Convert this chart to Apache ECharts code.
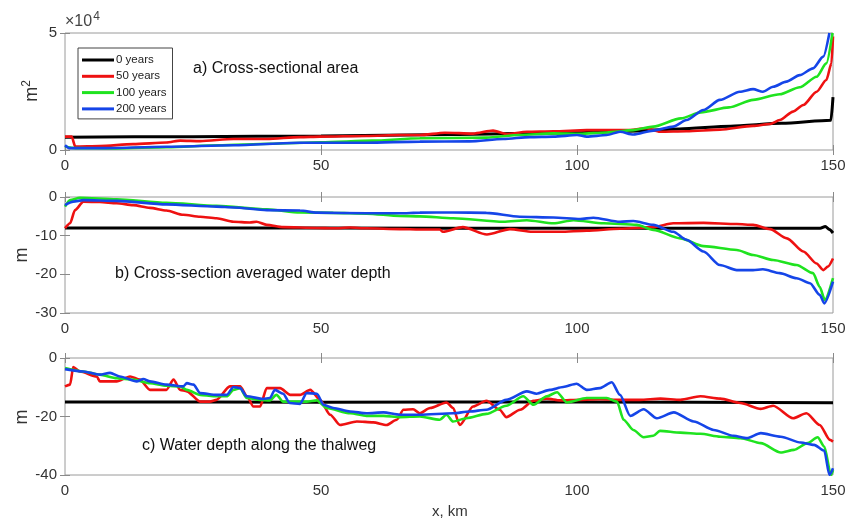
<!DOCTYPE html>
<html>
<head>
<meta charset="utf-8">
<script src="https://cdn.jsdelivr.net/npm/echarts@6/dist/echarts.min.js"></script>
<style>
  html, body { margin: 0; padding: 0; background: #fff; }
  #chart { width: 851px; height: 522px; }
</style>
</head>
<body>
<div id="chart"></div>
<script>
// legend names / colours
var names = ['0 years', '50 years', '100 years', '200 years'];
var colors = ['#000000', '#ee1111', '#1fe31f', '#1545e8'];

// a) cross-sectional area, x in km, y in 10^4 m2
var areaY0 = [[0,0.55],[25,0.57],[50,0.6],[75,0.66],[100,0.74],[110,0.8],[120,0.9],[130,1.02],[140,1.14],[149.6,1.27],[150,2.26]];
var areaY50 = [[0,0.57],[1.3,0.57],[2,0.15],[6.8,0.17],[13.3,0.25],[19.8,0.32],[22.5,0.4],[26.4,0.38],[32.9,0.47],[39.4,0.47],[45.9,0.55],[49.8,0.57],[58.9,0.6],[65.4,0.64],[69.3,0.64],[74.2,0.74],[79.7,0.7],[83.6,0.83],[86.2,0.68],[90.2,0.78],[95.4,0.8],[101.9,0.85],[109.7,0.85],[113.6,0.93],[116.2,0.78],[121.4,0.8],[127.9,0.87],[134.4,1.03],[137.7,1.11],[139.6,1.28],[142.2,1.64],[144.2,1.92],[146.8,2.49],[148.7,2.99],[149.7,3.7],[150,4.85]];
var areaY100 = [[0,0.15],[2,0.08],[10,0.07],[20,0.12],[30,0.2],[40,0.27],[50,0.33],[60,0.4],[69.3,0.5],[82.3,0.53],[88.8,0.64],[95.4,0.71],[100.6,0.69],[105.8,0.75],[111,0.85],[114.9,1.0],[120.3,1.35],[124.2,1.61],[129.7,1.82],[134.4,2.14],[139.6,2.38],[143.5,2.68],[146.8,3.13],[148.7,3.7],[149.9,5]];
var areaY200 = [[0,0.2],[0.8,0.08],[6.8,0.08],[19.8,0.14],[32.9,0.2],[45.9,0.31],[58.9,0.31],[69.3,0.36],[79,0.37],[85.6,0.47],[90.8,0.55],[95.4,0.57],[100,0.64],[101.9,0.57],[105.8,0.64],[108.4,0.78],[111,0.66],[114.9,0.83],[118.8,1.0],[121.4,1.28],[124.7,1.71],[127.9,2.14],[131.8,2.49],[134.4,2.6],[136.3,2.49],[138.3,2.7],[140.9,2.92],[143.5,3.2],[146.1,3.49],[148.1,3.99],[149.3,5]];

// b) cross-section averaged water depth, m
var depthY0 = [[0,-8],[50,-8],[100,-8.1],[147.5,-8.1],[148.5,-7.6],[149.3,-8.4],[150,-9.3]];
var depthY50 = [[0,-8.1],[1,-6.8],[1.95,-3.4],[3.6,-1.2],[6.8,-1.3],[10.1,-1.6],[13.3,-2.1],[16.6,-2.8],[19.8,-3.5],[23.1,-4.6],[26.4,-5.1],[29.6,-5.5],[32.9,-6.4],[36.1,-6.6],[37.4,-6.4],[39.4,-7.2],[42.6,-7.8],[49.2,-8],[52.4,-8.1],[55.7,-7.9],[58.9,-8.1],[65.4,-8.3],[69.3,-8.4],[73.2,-8.4],[73.8,-9],[77.7,-7.8],[82.4,-9.7],[86.9,-8.3],[91.3,-9],[96.7,-9],[101.9,-8.7],[108.4,-8.2],[114.9,-7.8],[118.8,-6.8],[124.7,-6.7],[131.2,-7],[134.4,-7.2],[137.7,-8.3],[141,-10.7],[144.2,-14.1],[146.8,-17.2],[148.1,-18.9],[149,-18],[150,-15.9]];
var depthY100 = [[0,-2.5],[1,-0.8],[2.9,-0.2],[10.1,-0.6],[19.8,-1.5],[29.6,-2.3],[39.4,-3.2],[45.9,-4],[52.4,-4.1],[58.9,-4.3],[65.4,-4.9],[69.3,-5],[75.8,-5.5],[85.6,-6.4],[90.2,-6],[95.4,-6.8],[99.3,-6],[105.2,-6.8],[111.7,-7.2],[114.9,-8.5],[120.2,-10.7],[124.7,-12.7],[131.2,-13.7],[134.4,-15],[138.3,-16.3],[142.9,-17.6],[146.1,-19.7],[147.4,-23.2],[148.4,-26.6],[150,-21]];
var depthY200 = [[0,-2.1],[1.6,-1.2],[3.6,-0.8],[10.1,-1],[19.8,-1.9],[29.6,-2.5],[32.9,-2.7],[39.4,-3.4],[45.9,-3.5],[49.2,-4.05],[58.9,-4.2],[65.4,-4.2],[69.3,-4.05],[75.8,-4],[82.3,-4.1],[88.8,-5.1],[95.4,-5.3],[100.6,-5.7],[103.2,-5.35],[108.4,-6.4],[111,-6.2],[114.9,-7.2],[118.8,-9],[121.4,-11.1],[124.7,-14.1],[127.9,-17.6],[131.2,-18.9],[134.4,-18.9],[136.3,-18.7],[139.6,-19.7],[142.9,-21],[145.5,-22.3],[147.4,-25.3],[148.3,-27.5],[150,-21.9]];

// c) water depth along the thalweg, m
var thalY0 = [[0,-15],[50,-15.1],[100,-15],[150,-15.3]];
var thalY50 = [[0,-9.7],[1,-9.1],[1.6,-3.1],[2.9,-4.6],[6.2,-6.3],[6.8,-8],[10.1,-8],[12.7,-6.3],[14.6,-7.4],[16.6,-10.9],[19.8,-10.9],[21.2,-7.4],[22.5,-10.9],[23.8,-11.4],[26.4,-14.9],[28.3,-14.9],[29.6,-14.3],[32.2,-9.7],[34.2,-9.7],[35.5,-13],[36.8,-16.6],[38.1,-16.6],[39.4,-10.3],[42,-10.3],[44,-12.6],[45.9,-12.6],[47.9,-10.9],[49.8,-14.3],[51.8,-19.4],[53.7,-22.9],[57,-21.7],[60.2,-22],[62.8,-22.9],[64.8,-21.1],[66.1,-17.7],[68,-17.5],[69.3,-18.9],[71.3,-17.1],[74.5,-15.2],[75.8,-17.1],[77.1,-22.9],[79.7,-16.6],[82.3,-14.6],[84.9,-17.7],[86.2,-20.2],[88.9,-17.7],[91.5,-14.6],[94.1,-13.9],[96.7,-14.5],[100.6,-14.3],[104.5,-14.1],[108.4,-14.3],[112.3,-14.3],[116.3,-13.9],[120.2,-14.3],[124.1,-13.1],[128,-13.9],[131.9,-15.4],[135.9,-17.4],[138.3,-16.3],[142.2,-20.6],[144.8,-18.9],[147.4,-22.9],[149.4,-28],[150,-28.6]];
var thalY100 = [[0,-3.4],[3.6,-4.6],[6.8,-5.7],[10.1,-6.9],[13.3,-7.4],[16.6,-8.6],[19.8,-9.5],[22.5,-9.7],[23.8,-10.9],[26.4,-12.6],[29,-13.1],[31.6,-13.1],[32.9,-10.9],[34.2,-10.3],[35.5,-13.7],[38.1,-14.3],[40,-14.5],[41.3,-12.6],[42.6,-14.9],[47.2,-14.9],[49.2,-14.5],[51.1,-17.1],[55.7,-18.9],[58.9,-19.8],[62.2,-19.8],[65.4,-20.2],[69.3,-20],[73.2,-21.1],[74.5,-19.4],[75.8,-21.7],[78.4,-20.6],[82.3,-19.1],[86.2,-16.3],[89.5,-13.1],[91.5,-16],[94.1,-13.1],[96.1,-11.7],[98,-15.2],[101.9,-13.7],[105.8,-13.7],[107.8,-14.9],[109.1,-21.1],[111,-24.6],[113,-27.1],[114.9,-26.6],[116.2,-24.9],[120.2,-25.5],[124.1,-25.9],[128,-26.9],[131.9,-27.4],[135.9,-29.1],[139.8,-32.3],[142.4,-31.4],[145,-29.1],[147,-27.1],[148.3,-30.3],[149.6,-40],[150,-38.3]];
var thalY200 = [[0,-3.8],[3.6,-4.6],[6.8,-5.7],[8.8,-5.1],[10.7,-6.3],[14,-8],[15.3,-7.2],[16.6,-8],[19.8,-9.1],[23.1,-9.7],[23.8,-8.6],[25.1,-9.1],[26.4,-12],[29.6,-12.6],[31.6,-12.6],[32.9,-9.9],[34.2,-10.3],[35.5,-13.1],[38.7,-14],[40,-13.7],[41,-10.9],[42.6,-12.2],[43.9,-15.4],[45.9,-15.7],[47.2,-12],[49.2,-12.2],[50.5,-16],[52.4,-17.1],[55.7,-18.3],[58.9,-18.9],[62.2,-18.6],[65.4,-19.4],[69.3,-19.4],[75.8,-18.9],[79,-18.3],[82.3,-17.7],[86.2,-14.3],[90.2,-11.4],[92.1,-12.2],[94.7,-10.9],[97.3,-9.9],[99.9,-8.8],[101.9,-10.9],[104.5,-10.3],[106.8,-8.3],[108.4,-12.6],[110.4,-19.8],[113,-17.5],[115.6,-20.6],[118.9,-18.6],[122.8,-21.7],[126.7,-24.6],[130.6,-26.6],[133.2,-27.4],[135.9,-25.7],[139.8,-26.9],[143.7,-28.9],[146.3,-29.7],[148.3,-31.7],[149.3,-40],[150,-37.7]];

var panels = [
  { top: 33, height: 117, min: 0, max: 5, interval: 5, data: [areaY0, areaY50, areaY100, areaY200] },
  { top: 197, height: 116, min: -30, max: 0, interval: 10, data: [depthY0, depthY50, depthY100, depthY200] },
  { top: 358, height: 117, min: -40, max: 0, interval: 20, data: [thalY0, thalY50, thalY100, thalY200] }
];

var FONT = 'Liberation Sans, Arial, sans-serif';
var tickStyle = { inside: true, length: 5, lineStyle: { color: '#8a8a8a' } };
var grids = [], xAxes = [], yAxes = [], series = [];

panels.forEach(function (p, i) {
  grids.push({ left: 65, right: 18, top: p.top, height: p.height, show: true,
    borderColor: '#9a9a9a', borderWidth: 1, backgroundColor: '#fff' });
  xAxes.push({ gridIndex: i, type: 'value', min: 0, max: 150, interval: 50, position: 'bottom',
    axisLine: { show: false }, axisTick: tickStyle, splitLine: { show: false },
    axisLabel: { color: '#333', fontSize: 15, fontFamily: FONT, margin: 8 } });
  yAxes.push({ gridIndex: i, type: 'value', min: p.min, max: p.max, interval: p.interval, position: 'left',
    axisLine: { show: false }, axisTick: tickStyle, splitLine: { show: false },
    axisLabel: { color: '#333', fontSize: 15, fontFamily: FONT, margin: 8 } });
});
// mirror axes for the ticks on top and right
panels.forEach(function (p, i) {
  xAxes.push({ gridIndex: i, type: 'value', min: 0, max: 150, interval: 50, position: 'top',
    axisLine: { show: false }, axisTick: tickStyle, axisLabel: { show: false }, splitLine: { show: false } });
  yAxes.push({ gridIndex: i, type: 'value', min: p.min, max: p.max, interval: p.interval, position: 'right',
    axisLine: { show: false }, axisTick: tickStyle, axisLabel: { show: false }, splitLine: { show: false } });
  p.data.forEach(function (d, k) {
    series.push({
      type: 'line', name: names[k], data: d, xAxisIndex: i, yAxisIndex: i,
      symbol: 'none', smooth: 0.25, smoothMonotone: 'x', silent: true,
      color: colors[k],
      lineStyle: { color: colors[k], width: k === 0 ? 3 : 2.6 },
      z: 2 + k
    });
  });
});

var chart = echarts.init(document.getElementById('chart'));
chart.setOption({
  animation: false,
  backgroundColor: '#fff',
  grid: grids,
  xAxis: xAxes,
  yAxis: yAxes,
  legend: {
    data: names, orient: 'vertical', left: 78, top: 48,
    icon: 'rect', itemWidth: 32, itemHeight: 3, itemGap: 4.3,
    padding: [6, 6, 4, 4],
    backgroundColor: '#fff', borderColor: '#444', borderWidth: 1,
    textStyle: { fontSize: 11.5, fontFamily: FONT, color: '#222', lineHeight: 12, padding: [0, 0, 0, -3] }
  },
  graphic: [
    { type: 'text', left: 193, top: 61, style: { text: 'a) Cross-sectional area', font: '16px ' + FONT, fill: '#111' } },
    { type: 'text', left: 115, top: 266, style: { text: 'b) Cross-section averaged water depth', font: '16px ' + FONT, fill: '#111' } },
    { type: 'text', left: 142, top: 438, style: { text: 'c) Water depth along the thalweg', font: '16px ' + FONT, fill: '#111' } },
    { type: 'text', left: 432, top: 504, style: { text: 'x, km', font: '15px ' + FONT, fill: '#333' } },
    { type: 'text', left: 65, top: 11, style: { text: '\u00d710{s|4}', font: '16px ' + FONT, fill: '#444',
      rich: { s: { fontSize: 12, fontFamily: FONT, fill: '#444', verticalAlign: 'top', padding: [0, 0, 10, 1] } } } },
    { type: 'text', x: 32, y: 91, rotation: Math.PI / 2,
      style: { text: 'm{s|2}', font: '18px ' + FONT, fill: '#333', align: 'center', verticalAlign: 'middle',
        rich: { s: { fontSize: 12, fontFamily: FONT, fill: '#333', padding: [0, 0, 10, 0] } } } },
    { type: 'text', x: 22, y: 255, rotation: Math.PI / 2,
      style: { text: 'm', font: '18px ' + FONT, fill: '#333', align: 'center', verticalAlign: 'middle' } },
    { type: 'text', x: 22, y: 417, rotation: Math.PI / 2,
      style: { text: 'm', font: '18px ' + FONT, fill: '#333', align: 'center', verticalAlign: 'middle' } }
  ],
  series: series
});
</script>
</body>
</html>
